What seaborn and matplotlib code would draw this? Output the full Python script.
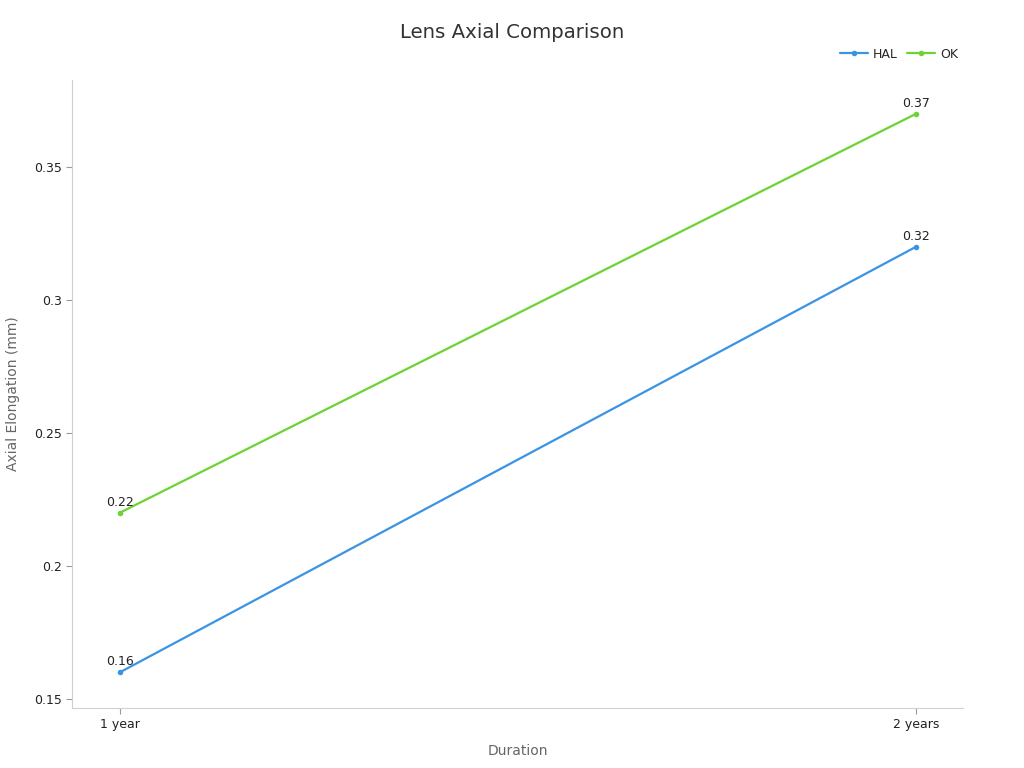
import matplotlib
matplotlib.use("Agg")
import matplotlib.pyplot as plt
import seaborn as sns
import pandas as pd

durations = ["1 year", "2 years"]
hal_values = [0.16, 0.32]
ok_values = [0.22, 0.37]
series_names = ["HAL", "OK"]
series_colors = ["#3a93e3", "#6cd332"]

df = pd.DataFrame({
    "Duration": durations * 2,
    "value": hal_values + ok_values,
    "series": [series_names[0]] * 2 + [series_names[1]] * 2,
})

sns.set_theme(style="white")
plt.rcParams["font.family"] = ["DejaVu Sans"]

fig = plt.figure(figsize=(10.24, 7.68), dpi=100)
ax = fig.add_axes([0.0703, 0.0781, 0.8701, 0.8177])

sns.lineplot(data=df, x="Duration", y="value", hue="series", palette=series_colors,
             marker="o", markersize=4, markeredgewidth=0, linewidth=1.6, ax=ax)

for vals, c in zip([hal_values, ok_values], series_colors):
    for i, v in enumerate(vals):
        ax.annotate(f"{v:.2f}", (i, v), xytext=(0, 3), textcoords="offset points",
                    ha="center", va="bottom", fontsize=9, color="#222222")

ax.set_xlim(-0.06, 1.059)
ax.set_ylim(0.1466, 0.3827)
ax.set_yticks([0.15, 0.2, 0.25, 0.3, 0.35])
ax.set_yticklabels(["0.15", "0.2", "0.25", "0.3", "0.35"])
ax.tick_params(axis="both", labelsize=9, colors="#222222", length=4, width=0.8, color="#999999")
ax.tick_params(axis="both", which="both", bottom=True, left=True)
for s in ["top", "right"]:
    ax.spines[s].set_visible(False)
for s in ["left", "bottom"]:
    ax.spines[s].set_color("#d0d0d0")
    ax.spines[s].set_linewidth(0.8)

ax.set_xlabel("Duration", fontsize=10, color="#666666", labelpad=9)
ax.set_ylabel("Axial Elongation (mm)", fontsize=10, color="#666666", labelpad=10)
fig.suptitle("Lens Axial Comparison", fontsize=14.2, color="#333333", y=0.97)

leg = ax.legend(loc="lower right", bbox_to_anchor=(1.007, 1.013), ncol=2, frameon=False,
                fontsize=9, handlelength=2.2, columnspacing=0.8, handletextpad=0.4)

fig.savefig("out.png", dpi=100)
